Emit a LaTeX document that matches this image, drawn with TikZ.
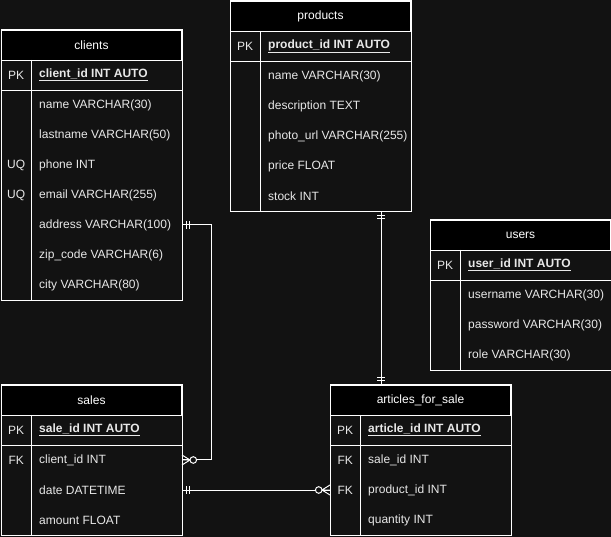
\documentclass[tikz,border=0pt]{standalone}
\usepackage{fontspec}
\setmainfont{Liberation Sans}
\definecolor{canvas}{RGB}{18,18,18}
\definecolor{fieldtext}{RGB}{232,232,232}

\tikzset{
  tblhead/.style={draw=white, line width=1pt, fill=black, text=white, minimum width=180pt, minimum height=30pt, inner sep=0pt, anchor=north west},
  keycell/.style={text=fieldtext, minimum width=30pt, minimum height=30pt, inner sep=0pt, anchor=west},
  fieldcell/.style={text=fieldtext, inner xsep=8pt, inner ysep=0pt, minimum height=30pt, anchor=west},
  pkfield/.style={fieldcell, font=\fontsize{12pt}{14pt}\selectfont\bfseries},
  tblline/.style={draw=white, line width=1pt},
  rel/.style={draw=white, line width=1pt},
  pics/onemark/.style={code={\draw[rel] (4,-4) -- (4,4) (7,-4) -- (7,4);}},
  pics/zeromany/.style={code={
    \draw[rel] (0,-5) -- (8,0) -- (0,5) (0,0) -- (8,0);
    \draw[rel, fill=canvas] (11.3,0) circle (3.3pt);}},
}

\begin{document}
\begin{tikzpicture}[x=1pt, y=-1pt, font=\fontsize{12pt}{14pt}\selectfont]
  \fill[canvas] (0,0) rectangle (611,537);
  \useasboundingbox (0,0) rectangle (611,537);

  % clients
  \node[tblhead] (cl) at (1,30) {clients};
  \node[keycell] (cl-k0) at (1,75) {PK};
  \node[pkfield] (cl-f0) at (31,75) {\underline{client\_id INT AUTO}};
  \foreach \k/\f [count=\i] in {/name VARCHAR(30), /lastname VARCHAR(50), UQ/phone INT,
      UQ/email VARCHAR(255), /address VARCHAR(100), /zip\_code VARCHAR(6), /city VARCHAR(80)} {
    \node[keycell] (cl-k\i) at (1,{75+30*\i}) {\k};
    \node[fieldcell] (cl-f\i) at (31,{75+30*\i}) {\f};
  }
  \draw[tblline] (cl.north west) rectangle (cl-k7.south -| cl.east);
  \draw[tblline] (cl-k0.south west) -- (cl-k0.south -| cl.east) (cl-k0.north east) -- (cl-k7.south east);

  % products
  \node[tblhead] (pr) at (230,1) {products};
  \node[keycell] (pr-k0) at (230,46) {PK};
  \node[pkfield] (pr-f0) at (260,46) {\underline{product\_id INT AUTO}};
  \foreach \k/\f [count=\i] in {/name VARCHAR(30), /description TEXT, /photo\_url VARCHAR(255),
      /price FLOAT, /stock INT} {
    \node[keycell] (pr-k\i) at (230,{46+30*\i}) {\k};
    \node[fieldcell] (pr-f\i) at (260,{46+30*\i}) {\f};
  }
  \draw[tblline] (pr.north west) rectangle (pr-k5.south -| pr.east);
  \draw[tblline] (pr-k0.south west) -- (pr-k0.south -| pr.east) (pr-k0.north east) -- (pr-k5.south east);

  % users
  \node[tblhead] (us) at (430,220) {users};
  \node[keycell] (us-k0) at (430,265) {PK};
  \node[pkfield] (us-f0) at (460,265) {\underline{user\_id INT AUTO}};
  \foreach \k/\f [count=\i] in {/username VARCHAR(30), /password VARCHAR(30), /role VARCHAR(30)} {
    \node[keycell] (us-k\i) at (430,{265+30*\i}) {\k};
    \node[fieldcell] (us-f\i) at (460,{265+30*\i}) {\f};
  }
  \draw[tblline] (us.north west) rectangle (us-k3.south -| us.east);
  \draw[tblline] (us-k0.south west) -- (us-k0.south -| us.east) (us-k0.north east) -- (us-k3.south east);

  % sales
  \node[tblhead] (sa) at (1,385) {sales};
  \node[keycell] (sa-k0) at (1,430) {PK};
  \node[pkfield] (sa-f0) at (31,430) {\underline{sale\_id INT AUTO}};
  \foreach \k/\f [count=\i] in {FK/client\_id INT, /date DATETIME, /amount FLOAT} {
    \node[keycell] (sa-k\i) at (1,{430+30*\i}) {\k};
    \node[fieldcell] (sa-f\i) at (31,{430+30*\i}) {\f};
  }
  \draw[tblline] (sa.north west) rectangle (sa-k3.south -| sa.east);
  \draw[tblline] (sa-k0.south west) -- (sa-k0.south -| sa.east) (sa-k0.north east) -- (sa-k3.south east);

  % articles_for_sale
  \node[tblhead] (ar) at (330,385) {articles\_for\_sale};
  \node[keycell] (ar-k0) at (330,430) {PK};
  \node[pkfield] (ar-f0) at (360,430) {\underline{article\_id INT AUTO}};
  \foreach \k/\f [count=\i] in {FK/sale\_id INT, FK/product\_id INT, /quantity INT} {
    \node[keycell] (ar-k\i) at (330,{430+30*\i}) {\k};
    \node[fieldcell] (ar-f\i) at (360,{430+30*\i}) {\f};
  }
  \draw[tblline] (ar.north west) rectangle (ar-k3.south -| ar.east);
  \draw[tblline] (ar-k0.south west) -- (ar-k0.south -| ar.east) (ar-k0.north east) -- (ar-k3.south east);

  % relations
  \coordinate (cl-out) at (cl-k5 -| cl.east);
  \coordinate (sa-in) at (sa-k1 -| sa.east);
  \draw[rel] (cl-out) -- ++(29,0) |- (sa-in);
  \pic at (cl-out) {onemark};
  \pic at (sa-in) {zeromany};

  \coordinate (pr-out) at ([xshift=-30pt]pr-k5.south -| pr.east);
  \draw[rel] (pr-out) -- (pr-out |- ar.north);
  \pic[rotate=-90] at (pr-out) {onemark};
  \pic[rotate=90] at (pr-out |- ar.north) {onemark};

  \coordinate (sa-out) at (sa-k2 -| sa.east);
  \draw[rel] (sa-out) -- (ar-k2.west);
  \pic at (sa-out) {onemark};
  \pic[rotate=180] at (ar-k2.west) {zeromany};
\end{tikzpicture}
\end{document}
